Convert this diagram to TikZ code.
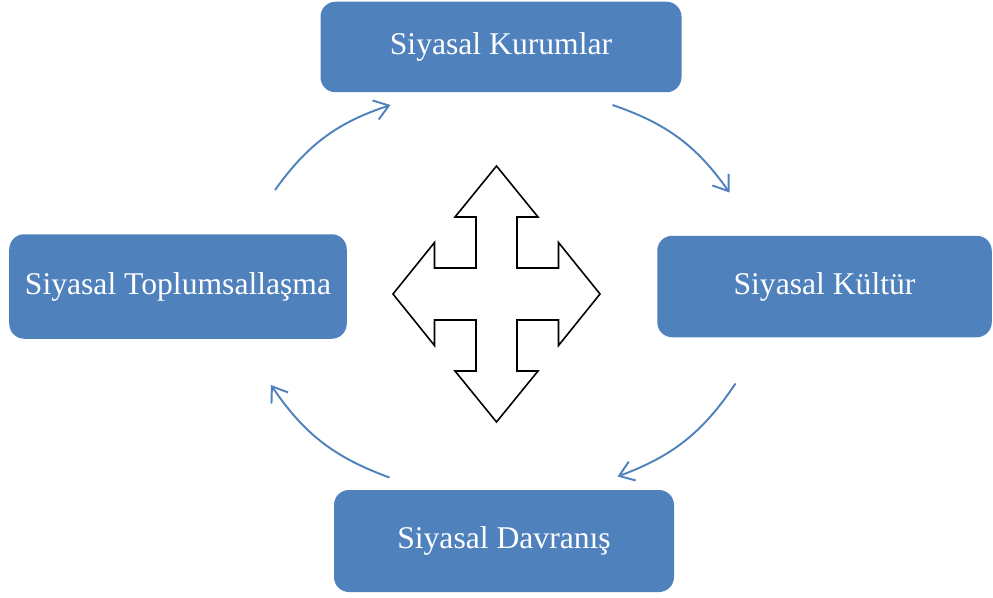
\documentclass[tikz,border=0pt]{standalone}
\usepackage{fontspec}
\setmainfont{Liberation Serif}
\usetikzlibrary{arrows.meta}

\definecolor{stageblue}{HTML}{4F81BD}

\tikzset{
    stage/.style={fill=stageblue, rounded corners=0.3cm, text=white, inner sep=0pt,
        font=\fontsize{18}{22}\selectfont},
    turn/.style={stageblue, line width=1.1pt, -{Straight Barb[length=2.8mm, width=4mm]}},
}

\begin{document}
\begin{tikzpicture}

    \useasboundingbox (0, 0) rectangle (19.86, 11.94);

    %% Stages

    \node [stage, minimum width=7.22cm, minimum height=1.81cm] (kurumlar) at (10.02, 11.0) {Siyasal Kurumlar};
    \node [stage, minimum width=6.69cm, minimum height=2.03cm] (kultur) at (16.49, 6.21) {Siyasal Kültür};
    \node [stage, minimum width=6.8cm, minimum height=2.04cm] (davranis) at (10.08, 1.12) {Siyasal Davranış};
    \node [stage, minimum width=6.75cm, minimum height=2.09cm] (toplum) at (3.56, 6.21) {Siyasal Toplumsallaşma};

    %% Cycle

    % Arc ends
    \coordinate (toplum out) at (5.50, 8.14);
    \coordinate (kurumlar in) at (7.81, 9.84);
    \coordinate (kurumlar out) at (12.25, 9.84);
    \coordinate (kultur in) at (14.59, 8.09);
    \coordinate (kultur out) at (14.71, 4.27);
    \coordinate (davranis in) at (12.35, 2.41);
    \coordinate (davranis out) at (7.79, 2.39);
    \coordinate (toplum in) at (5.42, 4.24);

    % Arcs
    \draw[turn] (toplum out) to[bend left=18] (kurumlar in);
    \draw[turn] (kurumlar out) to[bend left=18] (kultur in);
    \draw[turn] (kultur out) to[bend left=18] (davranis in);
    \draw[turn] (davranis out) to[bend left=18] (toplum in);

    % Four-way arrow
    \draw[line width=0.9pt, shift={(9.93, 6.06)}]
        (0, 2.56) -- (0.83, 1.54) -- (0.41, 1.54) -- (0.41, 0.52) -- (1.24, 0.52) -- (1.24, 1.03)
        -- (2.07, 0) -- (1.24, -1.03) -- (1.24, -0.52) -- (0.41, -0.52) -- (0.41, -1.54) -- (0.83, -1.54)
        -- (0, -2.56) -- (-0.83, -1.54) -- (-0.41, -1.54) -- (-0.41, -0.52) -- (-1.24, -0.52) -- (-1.24, -1.03)
        -- (-2.07, 0) -- (-1.24, 1.03) -- (-1.24, 0.52) -- (-0.41, 0.52) -- (-0.41, 1.54) -- (-0.83, 1.54)
        -- cycle;

\end{tikzpicture}
\end{document}
